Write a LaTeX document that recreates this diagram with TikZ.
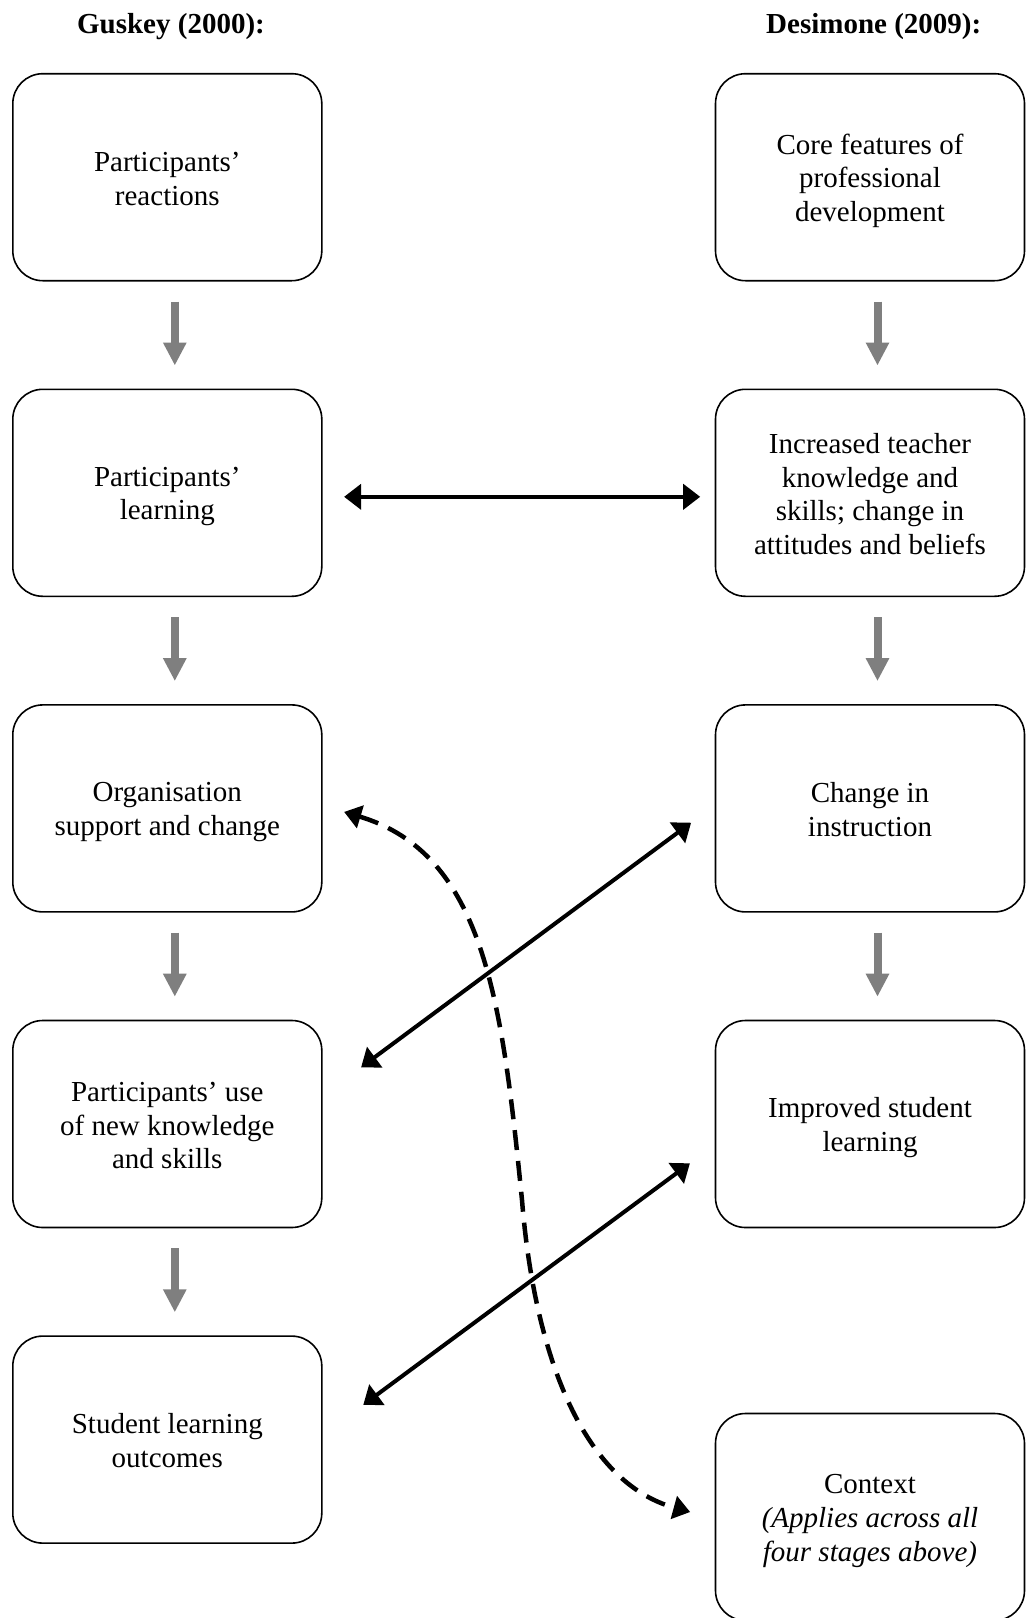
\documentclass[tikz,border=0pt]{standalone}
\usepackage{fontspec}
\setmainfont{Liberation Serif}
\usetikzlibrary{arrows.meta,calc}
\definecolor{arrowgray}{RGB}{127,127,127}
% every text line gets the same height and depth
\newcommand{\lstrut}{\rule[-5pt]{0pt}{32pt}}
\begin{document}
\begin{tikzpicture}[x=1pt,y=-1pt,
  stage/.style={draw,line width=1.6pt,rounded corners=30pt,
    minimum width=309pt,minimum height=207pt,align=center,
    inner sep=0pt,font=\fontsize{29}{33.6}\selectfont},
  heading/.style={anchor=base,font=\fontsize{29}{33.6}\selectfont\bfseries},
  flow/.style={draw=arrowgray,line width=8pt,
    -{Triangle[width=22pt,length=23pt]}},
  link/.style={line width=4pt,
    {Triangle[width=25pt,length=17pt]}-{Triangle[width=25pt,length=17pt]}},
  ctxlink/.style={line width=4.5pt,dash pattern=on 20pt off 11pt,
    {Triangle[width=23pt,length=17pt]}-{Triangle[width=23pt,length=17pt]}}]

\useasboundingbox (0,0) rectangle (1026,1618);
\fill[white] (0,0) rectangle (1026,1618);

% column headings
\node[heading] (hg) at (171,33) {Guskey (2000):};
\node[heading] (hd) at (873.7,33) {Desimone (2009):};

% Guskey's five levels
\node[stage] (L1) at (167.3,177.2) {\lstrut Participants’\\\lstrut reactions};
\node[stage] (L2) at (167.3,492.8) {\lstrut Participants’\\\lstrut learning};
\node[stage] (L3) at (167.3,808.4) {\lstrut Organisation\\\lstrut support and change};
\node[stage] (L4) at (167.3,1124) {\lstrut Participants’ use\\\lstrut of new knowledge\\\lstrut and skills};
\node[stage] (L5) at (167.3,1439.6) {\lstrut Student learning\\\lstrut outcomes};

% Desimone's framework
\node[stage] (R1) at (870,177.2) {\lstrut Core features of\\\lstrut professional\\\lstrut development};
\node[stage] (R2) at (870,492.8) {\lstrut Increased teacher\\\lstrut knowledge and\\\lstrut skills; change in\\\lstrut attitudes and beliefs};
\node[stage] (R3) at (870,808.4) {\lstrut Change in\\\lstrut instruction};
\node[stage] (R4) at (870,1124) {\lstrut Improved student\\\lstrut learning};
\node[stage] (R5) at (870,1517) {\lstrut Context\\\lstrut{\itshape (Applies across all}\\\lstrut{\itshape four stages above)}};

% downward flow within each column
\foreach \a/\b in {L1/L2,L2/L3,L3/L4,L4/L5,R1/R2,R2/R3,R3/R4}
  \draw[flow] ($(\a.south)+(7.5,20)$) -- ($(\b.north)+(7.5,-23)$);

% links between the two models
\draw[link] ($(L2.east)+(21.5,4)$) -- ($(R2.west)+(-14.5,4)$);
\draw[link] ($(L4.east)+(38.5,-56.7)$) -- ($(R3.west)+(-23.6,14.3)$);
\draw[link] ($(L5.east)+(40.7,-34.8)$) -- ($(R4.west)+(-24.8,39.3)$);

% context acts across all stages
\coordinate (cmid) at (522,1200);
\draw[ctxlink] ($(L3.east)+(21.5,3.5)$)
  .. controls (484,854) and (502,1000) .. (cmid)
  .. controls (534,1350) and (581,1482) .. ($(R5.west)+(-24.5,-5)$);
\end{tikzpicture}
\end{document}
